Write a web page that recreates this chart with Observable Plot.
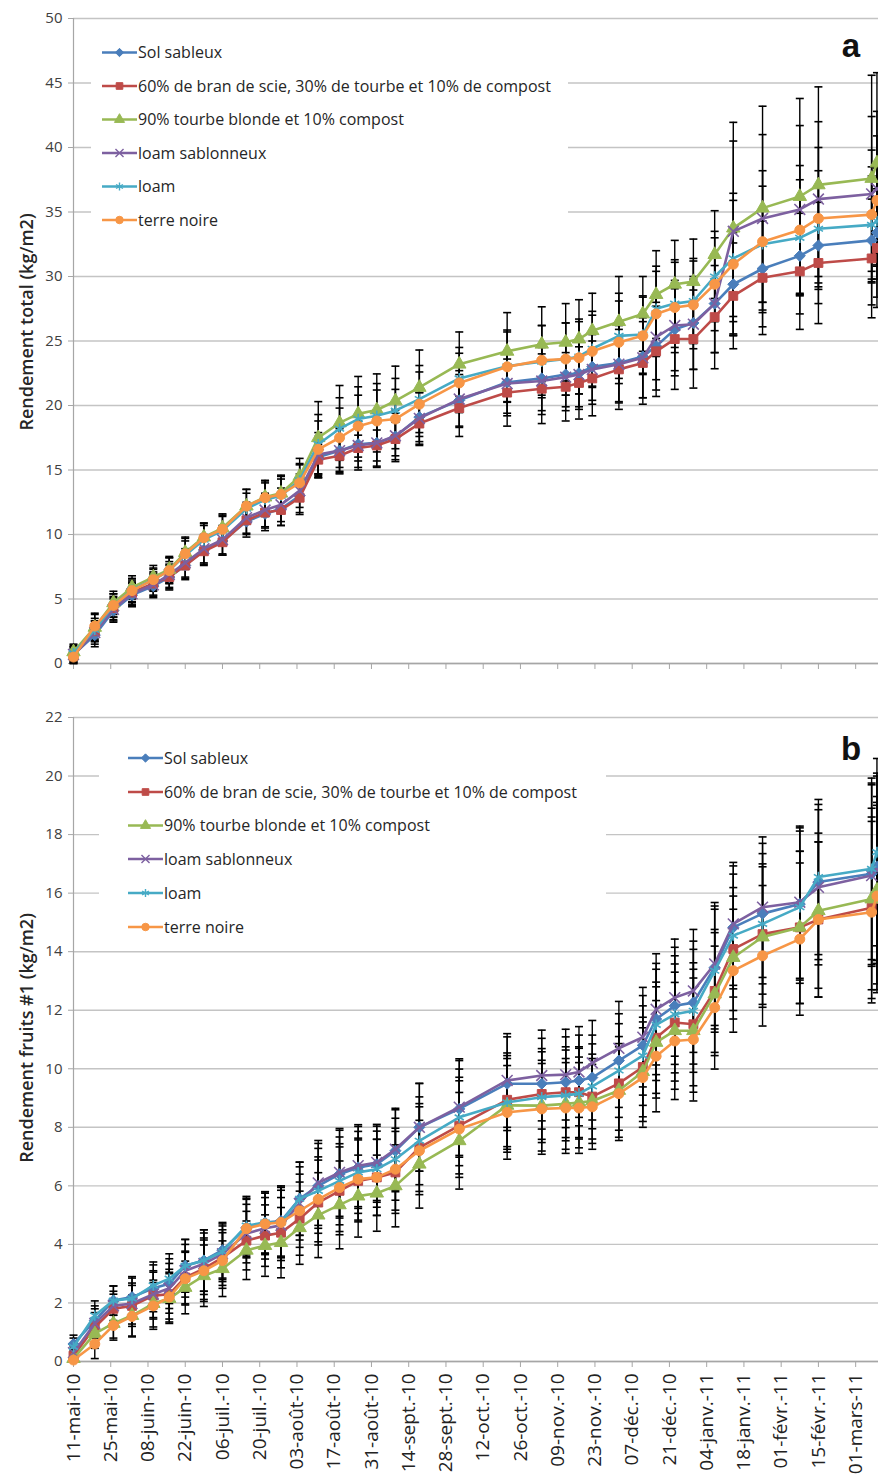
<!DOCTYPE html>
<html><head><meta charset="utf-8">
<script src="https://cdn.jsdelivr.net/npm/d3@7"></script>
<script src="https://cdn.jsdelivr.net/npm/@observablehq/plot@0.6"></script>
<style>
body{margin:0;background:#fff;}
#wrap{width:878px;overflow:hidden;}
#wrap svg{display:block;}
</style></head><body><div id="wrap"></div>
<script>
// ---------- DATA ----------
const dates = ["2010-05-11","2010-05-19","2010-05-26","2010-06-02","2010-06-10","2010-06-16","2010-06-22","2010-06-29","2010-07-06","2010-07-15","2010-07-22","2010-07-28","2010-08-04","2010-08-11","2010-08-19","2010-08-26","2010-09-02","2010-09-09","2010-09-18","2010-10-03","2010-10-21","2010-11-03","2010-11-12","2010-11-17","2010-11-22","2010-12-02","2010-12-11","2010-12-16","2010-12-23","2010-12-30","2011-01-07","2011-01-14","2011-01-25","2011-02-08","2011-02-15","2011-03-07","2011-03-09"];

const seriesNames = ["Sol sableux","60% de bran de scie, 30% de tourbe et 10% de compost","90% tourbe blonde et 10% compost","loam sablonneux","loam","terre noire"];
const seriesColors = ["#4A7EBB","#BE4B48","#98B954","#7D60A0","#46AAC5","#F79646"];
const seriesSymbols = ["diamond2","square","triangle","times","asterisk","circle"];

// Panel a: Rendement total (kg/m2)
const totSol    = [0.7,2.2,4.1,5.3,6.0,6.7,7.6,8.8,9.5,11.0,11.6,12.0,13.0,16.0,16.5,17.0,17.1,17.6,19.1,20.4,21.8,22.1,22.4,22.5,23.0,23.3,23.8,24.6,25.9,26.4,27.9,29.4,30.6,31.6,32.4,32.8,33.4];
const totBran   = [0.6,2.5,4.3,5.5,6.2,6.7,7.6,8.7,9.4,11.1,11.7,11.9,12.85,15.8,16.1,16.7,16.9,17.4,18.6,19.8,21.0,21.3,21.45,21.75,22.1,22.8,23.3,24.2,25.15,25.15,26.85,28.5,29.9,30.4,31.05,31.4,32.2];
const totTourbe = [0.9,2.8,4.7,5.9,6.7,7.3,8.6,9.8,10.5,12.2,12.9,13.2,14.5,17.5,18.65,19.35,19.65,20.35,21.4,23.2,24.2,24.75,24.9,25.15,25.8,26.5,27.1,28.6,29.4,29.6,31.7,33.75,35.3,36.2,37.1,37.6,38.8];
const totLoamS  = [0.7,2.4,4.2,5.4,6.1,6.9,7.8,8.9,9.6,11.3,11.9,12.3,13.4,16.2,16.5,16.9,17.1,17.65,19.0,20.5,21.7,21.9,22.2,22.4,22.8,23.2,23.7,25.3,26.2,26.3,27.9,33.5,34.5,35.2,36.0,36.4,36.8];
const totLoam   = [0.8,2.6,4.5,5.7,6.5,7.2,8.4,9.6,10.3,12.0,12.7,13.0,14.2,17.0,18.2,18.95,19.2,19.6,20.5,22.1,23.05,23.4,23.6,23.8,24.4,25.4,25.5,27.5,27.9,28.1,30.0,31.4,32.5,33.0,33.7,34.0,34.3];
const totNoire  = [0.5,2.9,4.5,5.65,6.5,7.2,8.5,9.75,10.4,12.2,12.85,13.1,14.0,16.6,17.5,18.4,18.8,18.95,20.1,21.75,23.0,23.5,23.6,23.7,24.2,24.9,25.4,27.1,27.6,27.8,29.4,30.95,32.7,33.6,34.5,34.8,35.9];

// Panel a: error bar half-widths (kg/m2)
const errTotSol    = [0.6,0.9,0.9,0.9,0.9,1.0,1.1,1.1,1.1,1.2,1.3,1.3,1.3,1.6,1.7,1.8,1.8,1.8,1.9,2.0,2.4,2.5,2.5,2.6,2.6,3.0,3.2,3.4,3.6,3.6,3.8,4.0,4.5,4.5,4.5,5.0,5.0];
const errTotBran   = [0.6,0.8,0.9,0.9,0.9,0.9,1.0,1.1,1.0,1.1,1.2,1.2,1.3,1.2,1.2,1.0,1.2,1.3,1.7,2.2,2.6,2.7,2.65,2.8,2.9,3.1,3.2,3.5,3.9,3.8,4.0,4.1,4.4,4.5,4.7,4.6,4.6];
const errTotTourbe = [0.6,1.0,0.9,0.9,0.9,1.0,1.2,1.1,1.1,1.3,1.3,1.4,1.4,2.8,2.9,2.9,2.8,2.7,2.9,2.5,3.0,2.9,3.0,3.05,2.9,3.5,2.9,3.4,3.4,3.3,3.4,8.2,7.9,7.6,7.6,8.0,7.0];
const errTotLoamS  = [0.6,0.9,0.9,0.9,0.9,1.0,1.1,1.1,1.1,1.2,1.3,1.3,1.3,1.7,1.8,1.9,1.9,2.0,2.0,2.2,2.5,2.6,2.6,2.7,2.7,3.0,3.1,3.3,3.5,3.5,3.8,7.0,6.5,6.5,6.0,6.0,6.0];
const errTotLoam   = [0.6,0.9,0.9,0.9,0.9,1.0,1.1,1.1,1.1,1.2,1.3,1.3,1.3,2.3,2.4,2.5,2.5,2.5,2.6,2.4,2.8,2.8,2.8,2.9,2.9,3.3,3.0,3.3,3.4,3.3,3.5,4.5,4.5,4.5,4.5,4.5,4.5];
const errTotNoire  = [0.6,1.0,0.9,0.9,0.8,1.0,1.2,1.1,1.1,1.3,1.3,1.4,1.4,2.2,2.3,2.4,2.4,2.3,2.5,2.3,2.7,2.7,2.8,2.8,2.8,3.2,3.0,3.3,3.5,3.4,3.6,5.5,5.5,5.0,5.5,5.0,5.0];

// Panel b: Rendement fruits #1 (kg/m2)
const frSol    = [0.6,1.4,2.08,2.2,2.5,2.66,3.27,3.45,3.8,4.58,4.75,4.8,5.56,6.0,6.4,6.63,6.74,7.2,8.0,8.63,9.49,9.49,9.54,9.6,9.7,10.28,10.8,11.7,12.15,12.26,13.46,14.83,15.3,15.63,16.38,16.66,16.9];
const frBran   = [0.2,1.17,1.8,1.9,2.25,2.3,2.87,3.17,3.55,4.13,4.3,4.4,4.88,5.43,5.83,6.17,6.29,6.46,7.31,8.06,8.94,9.14,9.2,9.2,9.05,9.5,10.06,11.06,11.58,11.52,12.66,14.09,14.6,14.83,15.1,15.5,15.8];
const frTourbe = [0.1,0.95,1.3,1.57,1.98,2.15,2.53,2.93,3.17,3.8,3.96,4.06,4.57,5.0,5.35,5.65,5.75,6.0,6.74,7.54,8.75,8.74,8.8,8.85,8.9,9.26,9.9,10.9,11.3,11.3,12.55,13.8,14.5,14.83,15.4,15.8,16.1];
const frLoamS  = [0.3,1.3,1.9,1.98,2.3,2.5,3.1,3.34,3.68,4.37,4.55,4.65,5.4,6.1,6.46,6.69,6.8,7.25,8.0,8.69,9.6,9.77,9.8,9.89,10.2,10.7,11.08,12.03,12.43,12.66,13.58,14.95,15.52,15.69,16.2,16.6,16.8];
const frLoam   = [0.5,1.57,2.08,2.15,2.6,2.83,3.27,3.45,3.75,4.64,4.75,4.75,5.56,5.83,6.17,6.46,6.57,6.91,7.54,8.34,8.85,9.03,9.09,9.15,9.4,9.94,10.45,11.5,11.86,11.98,13.35,14.55,14.95,15.52,16.55,16.83,17.4];
const frNoire  = [0.05,0.6,1.23,1.54,1.9,2.2,2.83,3.1,3.45,4.54,4.7,4.75,5.15,5.54,5.94,6.23,6.29,6.57,7.2,7.94,8.51,8.63,8.66,8.66,8.7,9.15,9.7,10.43,10.95,11.0,12.09,13.35,13.86,14.43,15.1,15.35,15.9];

// Panel b: error bar half-widths (kg/m2), same for all treatments
const errFruits = [0.3,0.5,0.5,0.7,0.8,0.85,0.9,1.05,0.95,1.0,1.05,1.2,1.25,1.45,1.5,1.4,1.3,1.4,1.5,1.65,1.6,1.55,1.55,1.55,1.45,1.6,1.7,1.9,2.0,2.1,2.1,2.1,2.4,2.6,2.65,3.1,3.2];

// Axes
const yTicksTotal = [0,5,10,15,20,25,30,35,40,45,50];
const yTicksFruits = [0,2,4,6,8,10,12,14,16,18,20,22];
const tickDates = ["2010-05-11","2010-05-25","2010-06-08","2010-06-22","2010-07-06","2010-07-20","2010-08-03","2010-08-17","2010-08-31","2010-09-14","2010-09-28","2010-10-12","2010-10-26","2010-11-09","2010-11-23","2010-12-07","2010-12-21","2011-01-04","2011-01-18","2011-02-01","2011-02-15","2011-03-01"];
const tickLabels = ["11-mai-10","25-mai-10","08-juin-10","22-juin-10","06-juil.-10","20-juil.-10","03-août-10","17-août-10","31-août-10","14-sept.-10","28-sept.-10","12-oct.-10","26-oct.-10","09-nov.-10","23-nov.-10","07-déc.-10","21-déc.-10","04-janv.-11","18-janv.-11","01-févr.-11","15-févr.-11","01-mars-11"];
const xDomain = [new Date("2010-05-11T00:00:00Z"), new Date("2011-03-09T14:00:00Z")];

// ---------- BUILD ----------
const FONT = "'Open Sans', 'DejaVu Sans', sans-serif";
const tickDateObjs = tickDates.map(d => new Date(d + "T00:00:00Z"));
const labelOf = new Map(tickDateObjs.map((d, i) => [+d, tickLabels[i]]));

function buildRows(valueArrays, errArrays) {
  const out = [];
  valueArrays.forEach((vals, s) => vals.forEach((v, i) => {
    const e = errArrays[s][i];
    out.push({s, series: seriesNames[s], date: new Date(dates[i] + "T00:00:00Z"), value: v, lo: Math.max(0, v - e), hi: v + e});
  }));
  return out;
}

const capSymbol = {draw(ctx, size) { const r = Math.sqrt(size / Math.PI); ctx.moveTo(-r, 0); ctx.lineTo(r, 0); }};

function seriesMarks(rows) {
  const m = [];
  m.push(Plot.ruleX(rows, {x: "date", y1: "lo", y2: "hi", stroke: "#000", strokeWidth: 1.4}));
  m.push(Plot.dot(rows, {x: "date", y: "lo", symbol: capSymbol, r: 4, stroke: "#000", fill: "none", strokeWidth: 1.6}));
  m.push(Plot.dot(rows, {x: "date", y: "hi", symbol: capSymbol, r: 4, stroke: "#000", fill: "none", strokeWidth: 1.6}));
  for (let s = 0; s < seriesNames.length; s++) {
    const d = rows.filter(r => r.s === s);
    m.push(Plot.line(d, {x: "date", y: "value", stroke: seriesColors[s], strokeWidth: 2.6}));
    const stroked = seriesSymbols[s] === "times" || seriesSymbols[s] === "asterisk";
    m.push(Plot.dot(d, {x: "date", y: "value", symbol: seriesSymbols[s], r: 5,
      fill: stroked ? "none" : seriesColors[s], stroke: seriesColors[s], strokeWidth: stroked ? 1.6 : 1}));
  }
  return m;
}

function panel({rows, yTicks, height, marginTop, marginBottom, showLabels}) {
  return Plot.plot({
    width: 878, height, marginTop, marginBottom, marginLeft: 73, marginRight: 0,
    style: {fontFamily: FONT, background: "white", color: "#333", overflow: "hidden"},
    x: {type: "utc", domain: xDomain},
    y: {domain: [yTicks[0], yTicks[yTicks.length - 1]]},
    marks: [
      Plot.gridY(yTicks, {stroke: "#C4C4C4", strokeOpacity: 1, strokeWidth: 1.4}),
      Plot.ruleX([tickDateObjs[0]], {stroke: "#A6A6A6", strokeWidth: 1.2}),
      Plot.ruleY([yTicks[0]], {stroke: "#A6A6A6", strokeWidth: 1.4}),
      Plot.axisY(yTicks, {tickSize: 5, tickPadding: 6, label: null, fontSize: 15, stroke: "#A6A6A6", fill: "#404040"}),
      showLabels
        ? Plot.axisX(tickDateObjs, {tickSize: 6, tickPadding: 6, tickRotate: -90, label: null, fontSize: 19, stroke: "#A6A6A6", fill: "#222",
            tickFormat: d => labelOf.get(+d)})
        : Plot.axisX(tickDateObjs, {tickSize: 6, label: null, stroke: "#A6A6A6", tickFormat: () => ""}),
      ...seriesMarks(rows)
    ]
  });
}

function decorate(svg, {rect, rowY, lineX0, lineX1, textX, fontSize, title, titleCY, letter, letterY}) {
  const g = d3.select(svg).append("g");
  g.append("rect").attr("x", rect[0]).attr("y", rect[1]).attr("width", rect[2]).attr("height", rect[3]).attr("fill", "white");
  const d3sym = {diamond2: d3.symbolDiamond2, square: d3.symbolSquare, triangle: d3.symbolTriangle, times: d3.symbolTimes, asterisk: d3.symbolAsterisk, circle: d3.symbolCircle};
  seriesNames.forEach((name, s) => {
    const y = rowY[s];
    g.append("line").attr("x1", lineX0).attr("x2", lineX1).attr("y1", y).attr("y2", y).attr("stroke", seriesColors[s]).attr("stroke-width", 2.6);
    const stroked = seriesSymbols[s] === "times" || seriesSymbols[s] === "asterisk";
    g.append("path").attr("transform", `translate(${(lineX0 + lineX1) / 2},${y})`)
      .attr("d", d3.symbol(d3sym[seriesSymbols[s]], Math.PI * 14)())
      .attr("fill", stroked ? "none" : seriesColors[s]).attr("stroke", seriesColors[s]).attr("stroke-width", stroked ? 1.4 : 1);
    g.append("text").attr("x", textX).attr("y", y).attr("dy", "0.36em").attr("text-anchor", "start")
      .attr("font-family", FONT).attr("font-size", fontSize).attr("fill", "#262626").text(name);
  });
  g.append("text").attr("transform", `translate(33,${titleCY}) rotate(-90)`).attr("text-anchor", "middle")
    .attr("font-family", FONT).attr("font-weight", 600).attr("font-size", 18).attr("fill", "#262626").text(title);
  g.append("text").attr("x", 851).attr("y", letterY).attr("text-anchor", "middle").attr("font-family", "'Liberation Sans', Arial, sans-serif")
    .attr("font-weight", "bold").attr("font-size", 33).attr("fill", "#111").text(letter);
}

const wrap = document.getElementById("wrap");

const rowsA = buildRows([totSol, totBran, totTourbe, totLoamS, totLoam, totNoire],
  [errTotSol, errTotBran, errTotTourbe, errTotLoamS, errTotLoam, errTotNoire]);
const svgA = panel({rows: rowsA, yTicks: yTicksTotal, height: 695, marginTop: 18, marginBottom: 32, showLabels: false});
decorate(svgA, {rect: [91, 30, 477, 205], rowY: [52.5, 86, 119.5, 153, 186.5, 220], lineX0: 102, lineX1: 137, textX: 138, fontSize: 16,
  title: "Rendement total (kg/m2)", titleCY: 322, letter: "a", letterY: 57});
wrap.appendChild(svgA);

const rowsB = buildRows([frSol, frBran, frTourbe, frLoamS, frLoam, frNoire], seriesNames.map(() => errFruits));
const svgB = panel({rows: rowsB, yTicks: yTicksFruits, height: 784, marginTop: 22, marginBottom: 118, showLabels: true});
decorate(svgB, {rect: [99, 40, 507, 205], rowY: [63, 97, 130.5, 164, 198, 232], lineX0: 128, lineX1: 163, textX: 164, fontSize: 16,
  title: "Rendement fruits #1 (kg/m2)", titleCY: 343, letter: "b", letterY: 65});
wrap.appendChild(svgB);
</script></body></html>
